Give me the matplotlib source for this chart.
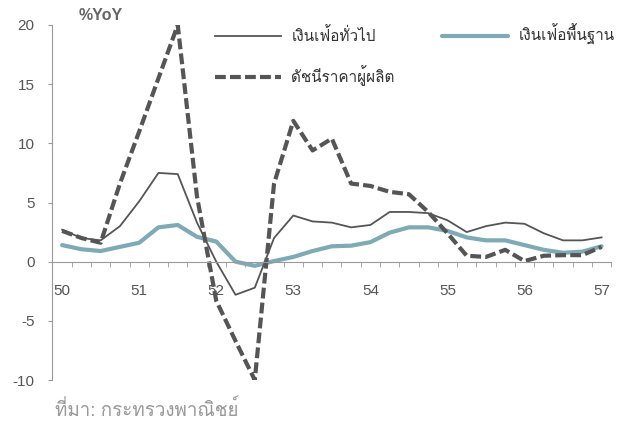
import numpy as np
import matplotlib
matplotlib.use("Agg")
import matplotlib.pyplot as plt
from matplotlib import font_manager, ft2font

# quarterly YoY %, 2550Q1 .. 2557Q1
year_labels = ["50", "51", "52", "53", "54", "55", "56", "57"]
headline = [2.7, 2.0, 1.8, 3.0, 5.1, 7.5, 7.4, 3.3, 0.0, -2.8, -2.2, 2.0, 3.9, 3.4,
            3.3, 2.9, 3.1, 4.2, 4.2, 4.1, 3.5, 2.5, 3.0, 3.3, 3.2, 2.4, 1.8, 1.8, 2.05]
core = [1.4, 1.05, 0.9, 1.25, 1.6, 2.9, 3.1, 2.1, 1.7, 0.0, -0.35, 0.05, 0.4, 0.9,
        1.3, 1.35, 1.65, 2.45, 2.9, 2.9, 2.6, 2.05, 1.8, 1.8, 1.4, 1.0, 0.75, 0.85, 1.3]
ppi = [2.6, 2.0, 1.6, 6.6, 11.0, 15.5, 20.0, 5.5, -3.3, -6.7, -10.0, 6.6, 11.9, 9.4,
       10.4, 6.6, 6.4, 5.9, 5.7, 4.2, 2.4, 0.5, 0.4, 1.0, 0.05, 0.5, 0.55, 0.55, 1.25]

names = ["เงินเฟ้อทั่วไป", "เงินเฟ้อพื้นฐาน", "ดัชนีราคาผู้ผลิต"]
source = "ที่มา: กระทรวงพาณิชย์"


def thai_font():
    # look for any installed font that has Thai glyphs
    for f in font_manager.fontManager.ttflist:
        try:
            cmap = ft2font.FT2Font(f.fname).get_charmap()
        except Exception:
            continue
        if 0x0E40 in cmap and 0x0E49 in cmap:
            return f.name
    return "DejaVu Sans"


thai = thai_font()
plt.rcParams["font.family"] = ["Liberation Sans", thai, "DejaVu Sans"]
plt.rcParams["axes.unicode_minus"] = False

x = np.arange(len(headline))

fig = plt.figure(figsize=(6.19, 4.26), dpi=100)
ax = fig.add_axes([52.5 / 619, 46 / 426, 558.7 / 619, 355 / 426])

grey = "#555555"
l_core, = ax.plot(x, core, color="#7eaab5", lw=3, solid_capstyle="round")
l_head, = ax.plot(x, headline, color=grey, lw=1.3)
l_ppi, = ax.plot(x, ppi, color=grey, lw=3, dashes=(2.6, 1.0))

ax.set_xlim(-0.5, len(x) - 0.5)
ax.set_ylim(-10, 20)

for s in ["top", "right"]:
    ax.spines[s].set_visible(False)
ax.spines["left"].set_color("#999999")
ax.spines["bottom"].set_color("#999999")
ax.spines["bottom"].set_position(("data", 0))

ax.set_yticks(np.arange(-10, 21, 5))
ax.tick_params(axis="y", direction="out", length=3, color="#999999",
               labelcolor=grey, labelsize=11, pad=10)

ax.set_xticks(x[::4])
ax.set_xticklabels(year_labels)
ax.set_xticks(np.arange(-0.5, len(x), 1), minor=True)
ax.tick_params(axis="x", which="major", length=0, labelcolor=grey,
               labelsize=11, pad=16)
ax.tick_params(axis="x", which="minor", direction="out", length=3.5,
               color="#999999")

ax.text(0.046, 1.028, "%YoY", transform=ax.transAxes, ha="left", va="center",
        fontsize=11.5, fontweight="bold", color="#666666")

leg = ax.legend([l_head, l_ppi, l_core], [names[0], names[2], names[1]],
                ncol=2, loc="upper left", bbox_to_anchor=(0.291, 1.003),
                frameon=False, fontsize=11, handlelength=4.3,
                handletextpad=0.7, labelspacing=1.4, columnspacing=3.1,
                borderpad=0, borderaxespad=0)
for t in leg.get_texts():
    t.set_color("#333333")

fig.text(55 / 619, 1 - 410 / 426, source, ha="left", va="center",
         fontsize=13.5, color="#999999")

fig.savefig("out.png", dpi=100)
